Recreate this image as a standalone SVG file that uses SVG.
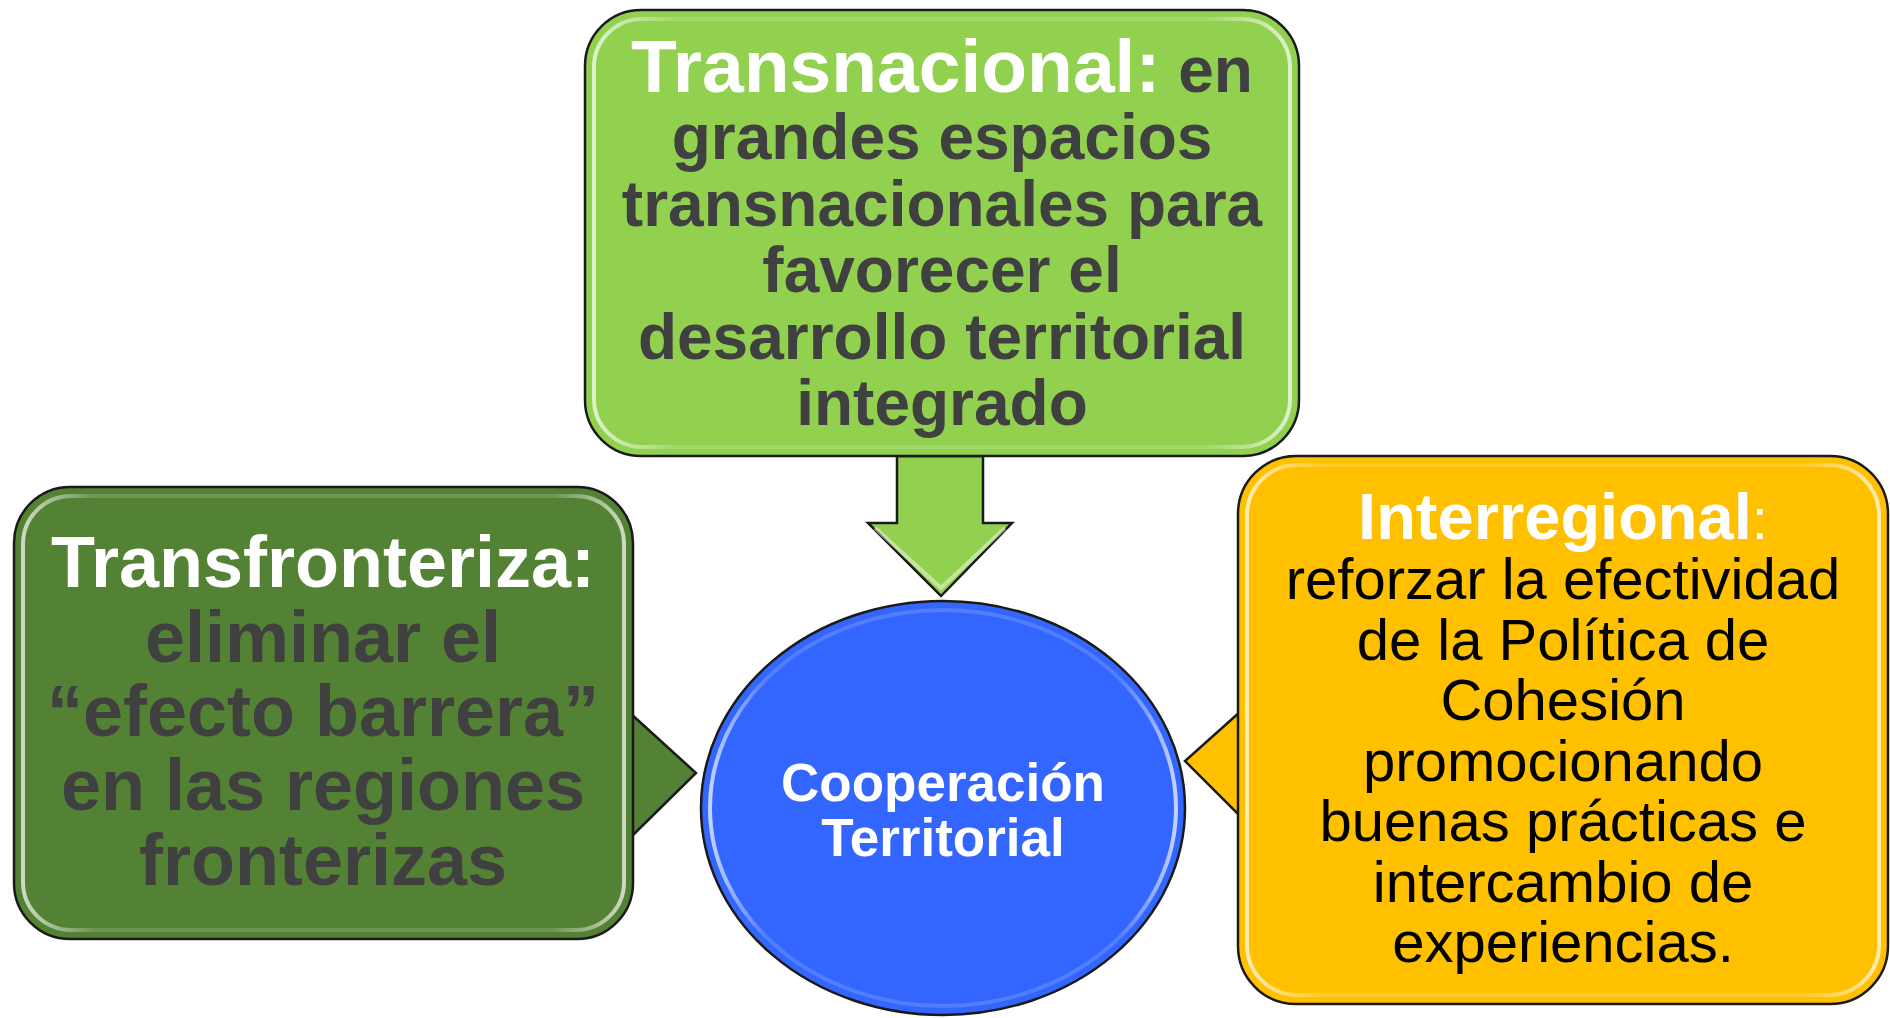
<svg xmlns="http://www.w3.org/2000/svg" width="1890" height="1018" viewBox="0 0 1890 1018">
  <defs>
    <linearGradient id="glossGrad" x1="0" y1="0" x2="1" y2="0">
      <stop offset="0" stop-color="#ffffff" stop-opacity="0.7"/>
      <stop offset="0.12" stop-color="#ffffff" stop-opacity="0.15"/>
      <stop offset="0.88" stop-color="#ffffff" stop-opacity="0.15"/>
      <stop offset="1" stop-color="#ffffff" stop-opacity="0.7"/>
    </linearGradient>
  </defs>
  <style>
    .outline { stroke: #1a1a1a; stroke-width: 2.5; }
    .gloss { fill: none; stroke: url(#glossGrad); stroke-width: 4; }
    .bold { font-family: "Liberation Sans", Arial, sans-serif; font-weight: bold; text-anchor: middle; }
    .reg { font-family: "Liberation Sans", Arial, sans-serif; font-weight: normal; text-anchor: middle; }
    .gray { fill: #404040; }
    .white { fill: #ffffff; }
    .black { fill: #000000; }
  </style>
  <rect width="1890" height="1018" fill="#ffffff"/>

  <g id="connectors">
    <polygon id="arrow-down" class="outline" fill="#92D050" points="897,456 983,456 983,523 1012,523 941,596 868,523 897,523"/>
    <polyline fill="none" stroke="#ffffff" stroke-opacity="0.45" stroke-width="4" points="875,528 941,588 1005,528"/>
    <polygon id="pointer-left" class="outline" fill="#548235" points="630,713 696,773 630,838"/>
    <polygon id="pointer-right" class="outline" fill="#FFC000" points="1241,711 1185,761 1241,817"/>
  </g>

  <g id="node-transnacional">
    <rect x="585" y="10" width="714" height="446" rx="56" ry="56" fill="#92D050" class="outline"/>
    <rect x="594" y="19" width="696" height="428" rx="48" ry="48" class="gloss"/>
    <text class="bold" x="942" y="92"><tspan class="white" font-size="75">Transnacional:</tspan><tspan class="gray" font-size="64"> en</tspan></text>
    <text class="bold gray" font-size="64" x="942" y="159">grandes espacios</text>
    <text class="bold gray" font-size="64" x="942" y="226">transnacionales para</text>
    <text class="bold gray" font-size="64" x="942" y="292">favorecer el</text>
    <text class="bold gray" font-size="64" x="942" y="359">desarrollo territorial</text>
    <text class="bold gray" font-size="64" x="942" y="425">integrado</text>
  </g>

  <g id="node-transfronteriza">
    <rect x="14" y="487" width="619" height="452" rx="56" ry="56" fill="#548235" class="outline"/>
    <rect x="23" y="496" width="601" height="434" rx="48" ry="48" class="gloss"/>
    <text class="bold white" font-size="72" x="323" y="587">Transfronteriza:</text>
    <text class="bold gray" font-size="72" x="323" y="662">eliminar el</text>
    <text class="bold gray" font-size="72" x="323" y="736">“efecto barrera”</text>
    <text class="bold gray" font-size="72" x="323" y="810">en las regiones</text>
    <text class="bold gray" font-size="72" x="323" y="885">fronterizas</text>
  </g>

  <g id="node-interregional">
    <rect x="1238" y="456" width="650" height="548" rx="58" ry="58" fill="#FFC000" class="outline"/>
    <rect x="1247" y="465" width="632" height="530" rx="50" ry="50" class="gloss"/>
    <text x="1563" y="539" text-anchor="middle"><tspan class="bold white" font-size="65">Interregional</tspan><tspan class="reg white" font-size="58">:</tspan></text>
    <text class="reg black" font-size="58" x="1563" y="599">reforzar la efectividad</text>
    <text class="reg black" font-size="58" x="1563" y="660">de la Política de</text>
    <text class="reg black" font-size="58" x="1563" y="720">Cohesión</text>
    <text class="reg black" font-size="58" x="1563" y="781">promocionando</text>
    <text class="reg black" font-size="58" x="1563" y="841">buenas prácticas e</text>
    <text class="reg black" font-size="58" x="1563" y="902">intercambio de</text>
    <text class="reg black" font-size="58" x="1563" y="962">experiencias.</text>
  </g>

  <g id="node-cooperacion">
    <ellipse cx="943" cy="808" rx="242" ry="207" fill="#3366FF" class="outline"/>
    <ellipse cx="943" cy="808" rx="233" ry="198" class="gloss"/>
    <text class="bold white" font-size="53" x="943" y="801">Cooperación</text>
    <text class="bold white" font-size="53" x="943" y="856">Territorial</text>
  </g>
</svg>
